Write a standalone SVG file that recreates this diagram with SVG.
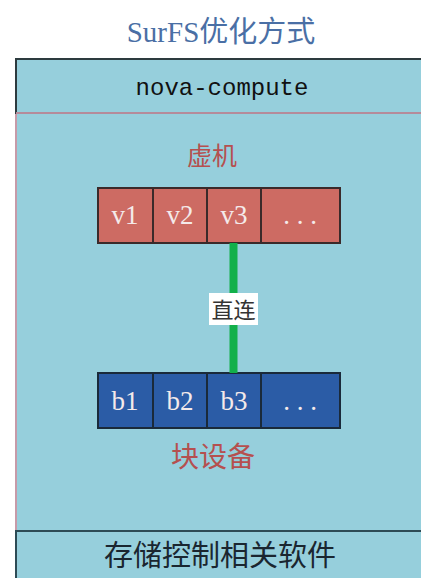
<svg xmlns="http://www.w3.org/2000/svg" width="421" height="578" viewBox="0 0 421 578">
<style>
.cjk{font-family:"Liberation Serif","Noto Sans CJK SC",serif}
.mono{font-family:"Liberation Mono","Noto Sans CJK SC",monospace}
.vm rect{fill:#CD6B63;stroke:#3a2a2a;stroke-width:2}
.bd rect{fill:#2B5CA6;stroke:#1a2a3a;stroke-width:2}
.cell{font-family:"Liberation Serif",serif;font-size:27px;fill:#f4eaea;text-anchor:middle}
</style>
<rect width="421" height="578" fill="#ffffff"/>
<text x="221" y="42" class="cjk" font-size="29" fill="#4A6FA5" text-anchor="middle">SurFS优化方式</text>
<g id="outer">
<rect x="16" y="59" width="410" height="530" fill="#96CFDC" stroke="#c79aa8" stroke-width="2"/>
</g>
<g id="nova-compute">
<rect x="16" y="59" width="410" height="54" fill="#96CFDC" stroke="#2d3b3f" stroke-width="2"/>
<line x1="16" y1="113" x2="421" y2="113" stroke="#b58b9a" stroke-width="2"/>
<text x="222" y="95" class="mono" font-size="24" fill="#111" text-anchor="middle">nova-compute</text>
</g>
<g id="vm-label"><text x="212" y="165" class="cjk" font-size="25" fill="#B5504F" text-anchor="middle">虚机</text></g>
<g id="vm" class="vm">
<rect x="98" y="188" width="55" height="55"/>
<rect x="153" y="188" width="54" height="55"/>
<rect x="207" y="188" width="54" height="55"/>
<rect x="261" y="188" width="79" height="55"/>
<text x="125" y="224" class="cell">v1</text>
<text x="180" y="224" class="cell">v2</text>
<text x="234" y="224" class="cell">v3</text>
<text x="300" y="224" class="cell">. . .</text>
</g>
<g id="bd" class="bd">
<rect x="98" y="373" width="55" height="55"/>
<rect x="153" y="373" width="54" height="55"/>
<rect x="207" y="373" width="54" height="55"/>
<rect x="261" y="373" width="79" height="55"/>
<text x="125" y="410" class="cell">b1</text>
<text x="180" y="410" class="cell">b2</text>
<text x="234" y="410" class="cell">b3</text>
<text x="300" y="410" class="cell">. . .</text>
</g>
<g id="connectors">
<line x1="233.5" y1="243" x2="233.5" y2="373" stroke="#12B04A" stroke-width="8"/>
<rect x="209" y="293" width="49" height="32" fill="#ffffff"/>
<text x="233.5" y="318" class="cjk" font-size="22" fill="#333" text-anchor="middle">直连</text>
</g>
<g id="bd-label"><text x="213" y="467" class="cjk" font-size="28" fill="#B5504F" text-anchor="middle">块设备</text></g>
<g id="storage">
<rect x="16" y="531" width="410" height="60" fill="#96CFDC" stroke="#2d4b55" stroke-width="2"/>
<text x="220" y="566" class="cjk" font-size="29" fill="#1a2630" text-anchor="middle">存储控制相关软件</text>
</g>
</svg>
